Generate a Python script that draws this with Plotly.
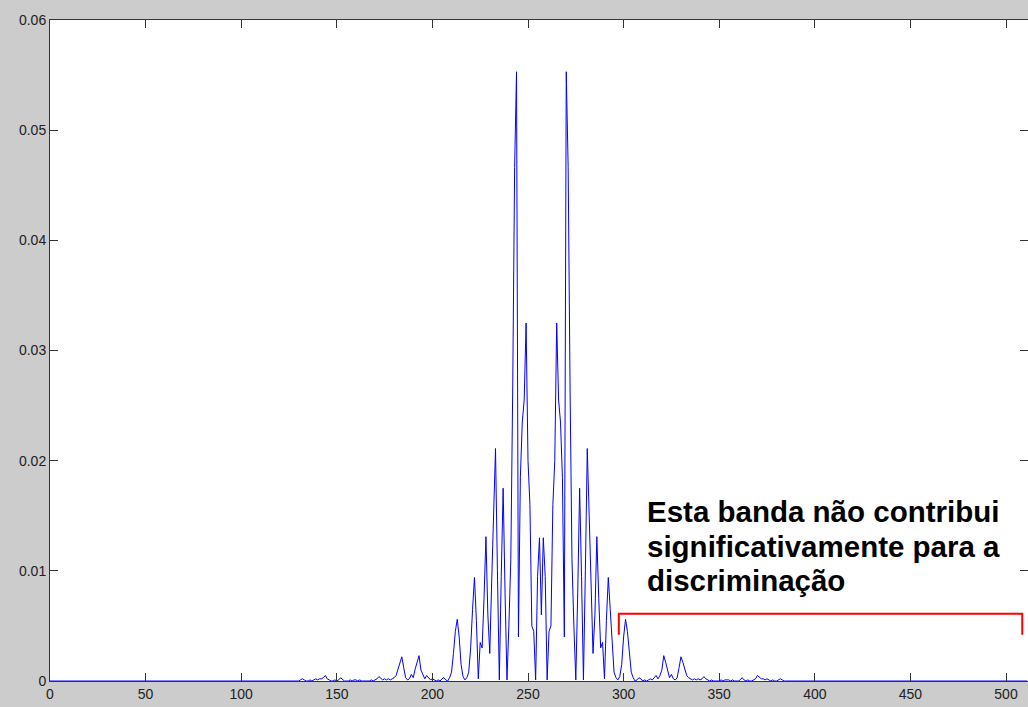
import plotly.graph_objects as go

# ---- data ----
# flat (zero) baseline ends
baseline_start_idx = 0
baseline_end_idx = 511
# first sample index of the non-zero band
band_start_idx = 128
# power values for samples 128 .. 386
band_power = [
    # 128-139
    0.0000, 0.0000, 0.0000, 0.0001, 0.0002, 0.0001, 0.0000, 0.0000, 0.0001, 0.0000, 0.0001, 0.0002,
    # 140-151
    0.0001, 0.0002, 0.0002, 0.0003, 0.0005, 0.0002, 0.0001, 0.0000, 0.0000, 0.0001, 0.0000, 0.0001,
    # 152-163
    0.0003, 0.0001, 0.0000, 0.0000, 0.0000, 0.0001, 0.0000, 0.0001, 0.0001, 0.0000, 0.0001, 0.0000,
    # 164-175
    0.0000, 0.0000, 0.0000, 0.0000, 0.0001, 0.0000, 0.0001, 0.0002, 0.0004, 0.0002, 0.0001, 0.0002,
    # 176-187
    0.0001, 0.0002, 0.0001, 0.0002, 0.0003, 0.0005, 0.0010, 0.0017, 0.0022, 0.0012, 0.0003, 0.0001,
    # 188-199
    0.0002, 0.0006, 0.0003, 0.0011, 0.0017, 0.0023, 0.0010, 0.0005, 0.0002, 0.0005, 0.0003, 0.0001,
    # 200-209
    0.0002, 0.0001, 0.0000, 0.0001, 0.0000, 0.0002, 0.0003, 0.0001, 0.0000, 0.0003,
    # 210-221
    0.0008, 0.0025, 0.0045, 0.0056, 0.0040, 0.0015, 0.0004, 0.0001, 0.0003, 0.0008, 0.0030, 0.0065,
    # 222-233
    0.0094, 0.0055, 0.0002, 0.0035, 0.0030, 0.0075, 0.0131, 0.0060, 0.0025, 0.0090, 0.0150, 0.0211,
    # 234-245
    0.0100, 0.0001, 0.0095, 0.0175, 0.0080, 0.0001, 0.0050, 0.0110, 0.0265, 0.0466, 0.0553, 0.0040,
    # 246-257
    0.0185, 0.0235, 0.0255, 0.0325, 0.0200, 0.0160, 0.0050, 0.0045, 0.0001, 0.0095, 0.0130, 0.0060,
    # 258-269
    0.0130, 0.0095, 0.0001, 0.0045, 0.0050, 0.0160, 0.0200, 0.0325, 0.0255, 0.0235, 0.0185, 0.0040,
    # 270-281
    0.0553, 0.0466, 0.0265, 0.0110, 0.0050, 0.0001, 0.0080, 0.0175, 0.0095, 0.0001, 0.0100, 0.0211,
    # 282-293
    0.0150, 0.0090, 0.0025, 0.0060, 0.0131, 0.0075, 0.0030, 0.0035, 0.0002, 0.0055, 0.0094, 0.0065,
    # 294-305
    0.0030, 0.0008, 0.0003, 0.0001, 0.0004, 0.0015, 0.0040, 0.0056, 0.0045, 0.0025, 0.0008, 0.0003,
    # 306-317
    0.0000, 0.0001, 0.0003, 0.0002, 0.0000, 0.0001, 0.0000, 0.0001, 0.0002, 0.0001, 0.0003, 0.0005,
    # 318-329
    0.0002, 0.0005, 0.0010, 0.0023, 0.0017, 0.0011, 0.0003, 0.0006, 0.0002, 0.0001, 0.0003, 0.0012,
    # 330-341
    0.0022, 0.0017, 0.0010, 0.0005, 0.0003, 0.0002, 0.0001, 0.0002, 0.0001, 0.0002, 0.0001, 0.0002,
    # 342-353
    0.0004, 0.0002, 0.0001, 0.0000, 0.0001, 0.0000, 0.0000, 0.0000, 0.0000, 0.0001, 0.0000, 0.0001,
    # 354-365
    0.0001, 0.0001, 0.0000, 0.0001, 0.0000, 0.0000, 0.0000, 0.0001, 0.0003, 0.0001, 0.0000, 0.0001,
    # 366-377
    0.0000, 0.0000, 0.0001, 0.0002, 0.0005, 0.0003, 0.0002, 0.0002, 0.0001, 0.0002, 0.0001, 0.0000,
    # 378-386
    0.0001, 0.0000, 0.0000, 0.0001, 0.0002, 0.0001, 0.0000, 0.0000, 0.0000,
]

x_tick_vals = [0, 50, 100, 150, 200, 250, 300, 350, 400, 450, 500]
y_tick_vals = [0, 0.01, 0.02, 0.03, 0.04, 0.05, 0.06]
y_tick_text = ["0", "0.01", "0.02", "0.03", "0.04", "0.05", "0.06"]

# red bracket marking the band (data coordinates)
bracket_x = [297.5, 297.5, 508.5, 508.5]
bracket_y = [0.0042, 0.0061, 0.0061, 0.0042]

note_lines = ["Esta banda não contribui", "significativamente para a", "discriminação"]
note_x = 311.0
note_y = [0.0154, 0.01225, 0.0091]

# ---- build figure ----
band_idx = list(range(band_start_idx, band_start_idx + len(band_power)))
xs = [baseline_start_idx] + band_idx + [baseline_end_idx]
ys = [0.0] + band_power + [0.0]

fig = go.Figure()
fig.add_trace(go.Scatter(x=xs, y=ys, mode="lines",
                         line=dict(color="#0000ff", width=1), hoverinfo="skip"))
fig.add_trace(go.Scatter(x=bracket_x, y=bracket_y, mode="lines",
                         line=dict(color="#ff0000", width=2), hoverinfo="skip"))

for txt, yy in zip(note_lines, note_y):
    fig.add_annotation(x=note_x, y=yy, xref="x", yref="y", text=txt,
                       showarrow=False, xanchor="left", yanchor="middle",
                       font=dict(family="Liberation Sans, Arial", size=29.5, color="#000000",
                                 weight="bold"))

axis_common = dict(showline=True, linecolor="#333333", linewidth=1, mirror="ticks",
                   ticks="inside", ticklen=8, tickcolor="#333333", showgrid=False,
                   zeroline=False,
                   tickfont=dict(family="Liberation Sans, Arial", size=14, color="#222222"))

fig.update_xaxes(range=[0, 511.5], tickvals=x_tick_vals, **axis_common)
fig.update_yaxes(range=[0, 0.06], tickvals=y_tick_vals, ticktext=y_tick_text, **axis_common)

fig.update_layout(width=1028, height=707, autosize=False,
                  margin=dict(l=50, r=0, t=20, b=26),
                  paper_bgcolor="#cccccc", plot_bgcolor="#ffffff",
                  showlegend=False)

fig.write_html("out.html")
